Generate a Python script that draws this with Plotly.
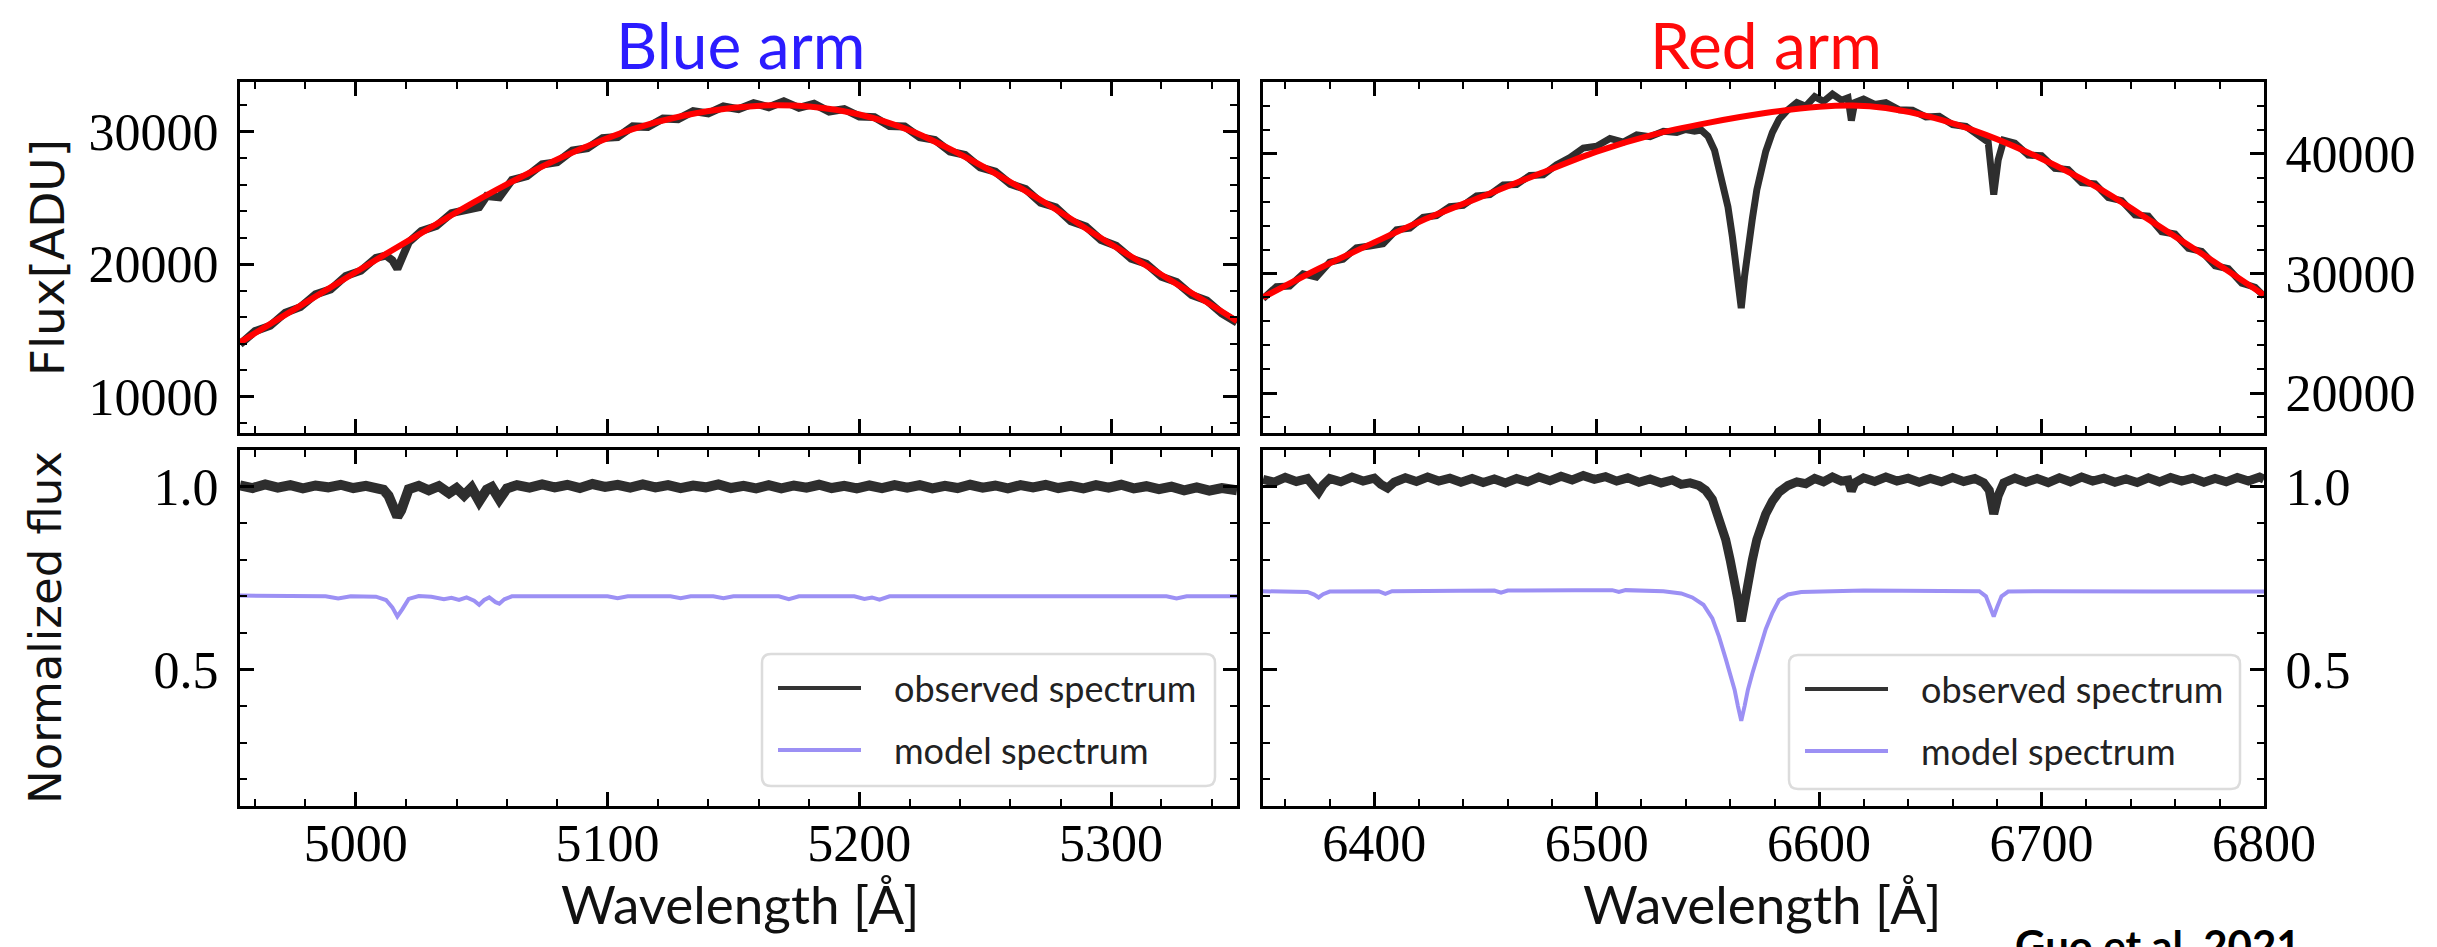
import plotly.graph_objects as go

W, H = 2437, 947

# ---------------- Blue arm ----------------
blue_fit_wl = [4954, 4970, 4990, 5010, 5030, 5050, 5070, 5090, 5110, 5130, 5150, 5165,
               5180, 5200, 5220, 5240, 5260, 5280, 5300, 5320, 5340, 5350]
blue_fit_flux = [14100, 15950, 18250, 20550, 22800, 25000, 27000, 28750, 30200, 31200, 31800, 32000,
                 31900, 31300, 30100, 28300, 26200, 23900, 21500, 19200, 16900, 15700]

blue_obs_wl = [4954, 4960, 4966, 4972, 4978, 4984, 4990, 4996, 5002, 5008, 5012, 5014.5, 5016.5,
               5018.5, 5021, 5026, 5032, 5038, 5044, 5049, 5052, 5057, 5062, 5068, 5074, 5080,
               5086, 5092, 5098, 5104, 5110, 5116, 5122, 5128, 5134, 5140, 5146, 5152, 5158, 5164,
               5170, 5176, 5182, 5188, 5194, 5200, 5206, 5212, 5218, 5224, 5230, 5236, 5242, 5248,
               5254, 5260, 5266, 5272, 5278, 5284, 5290, 5296, 5302, 5308, 5314, 5320, 5326, 5332,
               5338, 5344, 5350]
blue_obs_flux = [13950, 14950, 15350, 16330, 16760, 17720, 18100, 19110, 19500, 20480, 20650, 20300, 19650,
                 20400, 21650, 22500, 22880, 23850, 24150, 24300, 25150, 25050, 26350, 26650, 27530, 27700,
                 28580, 28750, 29520, 29600, 30400, 30350, 31000, 30950, 31550, 31380, 31900, 31700, 32150, 31850,
                 32300, 31800, 32100, 31520, 31700, 31150, 31100, 30420, 30400, 29580, 29380, 28500, 28250, 27300,
                 26980, 26050, 25680, 24650, 24300, 23250, 22850, 21820, 21400, 20420, 20030, 19050, 18650, 17680,
                 17260, 16280, 15600]

blue_norm_wl = [4954, 4959, 4964, 4969, 4974, 4979, 4984, 4989, 4994, 4999, 5004, 5008, 5011, 5013,
                5015, 5016.5, 5018, 5019.5, 5021, 5025, 5029, 5033, 5037, 5040, 5043, 5046, 5049, 5052,
                5054, 5057, 5060, 5064, 5069, 5074, 5079, 5084, 5089, 5094, 5099, 5104, 5109, 5114,
                5119, 5124, 5129, 5134, 5139, 5144, 5149, 5154, 5159, 5164, 5169, 5174, 5179, 5184,
                5189, 5194, 5199, 5204, 5209, 5214, 5219, 5224, 5229, 5234, 5239, 5244, 5249, 5254,
                5259, 5264, 5269, 5274, 5279, 5284, 5289, 5294, 5299, 5304, 5309, 5314, 5319, 5324,
                5329, 5334, 5339, 5344, 5350]
blue_norm_obs = [1.003, 0.996, 1.006, 0.997, 1.004, 0.995, 1.003, 0.998, 1.005, 0.996, 1.002, 0.995, 0.991, 0.975,
                 0.945, 0.918, 0.935, 0.972, 0.993, 1.002, 0.990, 1.001, 0.982, 0.996, 0.976, 0.997, 0.960, 0.992,
                 0.999, 0.965, 0.995, 1.004, 0.997, 1.006, 0.998, 1.005, 0.996, 1.007, 0.999, 1.005, 0.997, 1.006,
                 0.998, 1.004, 0.996, 1.003, 0.998, 1.006, 0.996, 1.002, 0.995, 1.004, 0.995, 1.003, 0.997, 1.005,
                 0.996, 1.002, 0.995, 1.003, 0.996, 1.004, 0.997, 1.004, 0.995, 1.002, 0.996, 1.005, 0.997, 1.003,
                 0.995, 1.004, 0.998, 1.005, 0.996, 1.002, 0.995, 1.004, 0.997, 1.005, 0.995, 1.001, 0.993, 1.000,
                 0.990, 0.998, 0.989, 0.996, 0.990]

blue_model_wl = [4954, 4975, 4988, 4993, 4998, 5008, 5012, 5014.5, 5016.5, 5018.5, 5021, 5025, 5030, 5035,
                 5038, 5041, 5044, 5047, 5049, 5051, 5053, 5055.5, 5057, 5059, 5062, 5080, 5100, 5104,
                 5108, 5125, 5129, 5133, 5142, 5146, 5150, 5168, 5172, 5176, 5198, 5202, 5205, 5208,
                 5212, 5240, 5270, 5300, 5322, 5326, 5330, 5350]
blue_model = [0.702, 0.702, 0.700, 0.694, 0.700, 0.699, 0.690, 0.670, 0.645, 0.665, 0.693, 0.701, 0.699, 0.692,
              0.696, 0.690, 0.697, 0.688, 0.677, 0.690, 0.697, 0.684, 0.680, 0.692, 0.700, 0.700, 0.700, 0.695,
              0.700, 0.700, 0.695, 0.700, 0.700, 0.695, 0.700, 0.700, 0.692, 0.700, 0.700, 0.693, 0.697, 0.691,
              0.700, 0.700, 0.700, 0.700, 0.700, 0.694, 0.700, 0.700]

# ---------------- Red arm ----------------
red_fit_wl = [6350, 6375, 6400, 6425, 6450, 6475, 6500, 6525, 6550, 6575, 6600, 6615,
              6630, 6650, 6675, 6700, 6725, 6750, 6775, 6800]
red_fit_flux = [28000, 30400, 32600, 34700, 36550, 38400, 40200, 41600, 42600, 43400, 43950, 44060,
                43850, 43100, 41600, 39600, 37200, 34300, 31300, 28200]

red_obs_wl = [6350, 6356, 6362, 6368, 6374, 6380, 6386, 6392, 6398, 6404, 6410, 6416, 6422, 6428,
              6434, 6440, 6446, 6452, 6458, 6464, 6470, 6476, 6482, 6488, 6494, 6500, 6506, 6512,
              6518, 6524, 6530, 6536, 6540, 6544, 6547, 6550, 6553, 6556, 6559, 6561, 6563, 6565,
              6566.5, 6568, 6570, 6572, 6574, 6576, 6579, 6582, 6586, 6590, 6594, 6598, 6602, 6606,
              6610, 6613, 6614.5, 6616, 6620, 6625, 6630, 6636, 6642, 6648, 6654, 6660, 6666, 6672,
              6676, 6678.5, 6680.5, 6683, 6688, 6694, 6700, 6706, 6712, 6718, 6724, 6730, 6736, 6742,
              6748, 6754, 6760, 6766, 6772, 6778, 6784, 6790, 6796, 6800]
red_obs_flux = [27900, 28900, 28950, 29980, 29700, 30950, 31200, 32150, 32300, 32500, 33650, 33800, 34700, 34850,
                35600, 35700, 36500, 36600, 37400, 37450, 38200, 38250, 39100, 39700, 40500, 40650, 41300, 41000,
                41600, 41450, 41900, 41800, 42050, 41900, 42000, 41500, 40300, 38100, 35600, 33100, 30100, 27100,
                29800, 32200, 34600, 37000, 38800, 40200, 41800, 42900, 43700, 44300, 44000, 44800, 44400, 45000,
                44500, 44700, 42800, 44300, 44600, 44150, 44300, 43700, 43650, 43100, 43150, 42450, 42300, 41600,
                41000, 36600, 39500, 41150, 40900, 39900, 39850, 38800, 38700, 37600, 37500, 36350, 36100, 34900,
                34800, 33500, 33300, 32100, 31850, 30650, 30400, 29200, 28850, 28100]

red_norm_wl = [6350, 6355, 6360, 6365, 6370, 6373, 6375, 6377, 6380, 6385, 6390, 6395, 6400, 6403,
               6406, 6409, 6414, 6419, 6424, 6429, 6434, 6439, 6444, 6449, 6454, 6459, 6464, 6469,
               6474, 6479, 6484, 6489, 6494, 6499, 6504, 6509, 6514, 6519, 6524, 6529, 6534, 6538,
               6542, 6546, 6549, 6552, 6555, 6558, 6560, 6562, 6563.5, 6565, 6566.5, 6568, 6570, 6572,
               6574, 6576, 6579, 6582, 6586, 6590, 6594, 6598, 6602, 6606, 6610, 6613, 6614.5, 6616,
               6620, 6625, 6630, 6635, 6640, 6645, 6650, 6655, 6660, 6665, 6670, 6674, 6676.5, 6678.5,
               6680.5, 6683, 6688, 6693, 6698, 6703, 6708, 6713, 6718, 6723, 6728, 6733, 6738, 6743,
               6748, 6753, 6758, 6763, 6768, 6773, 6778, 6783, 6788, 6793, 6798, 6800]
red_norm_obs = [1.020, 1.012, 1.025, 1.014, 1.022, 1.002, 0.985, 1.004, 1.022, 1.013, 1.026, 1.015, 1.023, 1.006,
                0.996, 1.012, 1.024, 1.014, 1.026, 1.015, 1.023, 1.012, 1.022, 1.011, 1.021, 1.010, 1.022, 1.013,
                1.026, 1.016, 1.028, 1.018, 1.030, 1.020, 1.027, 1.015, 1.024, 1.012, 1.021, 1.010, 1.018, 1.006,
                1.010, 1.003, 0.990, 0.965, 0.915, 0.855, 0.800, 0.745, 0.690, 0.632, 0.690, 0.745, 0.800, 0.855,
                0.895, 0.925, 0.960, 0.985, 1.003, 1.013, 1.008, 1.022, 1.013, 1.026, 1.015, 1.018, 0.988, 1.010,
                1.024, 1.014, 1.026, 1.015, 1.023, 1.012, 1.022, 1.013, 1.025, 1.014, 1.022, 1.010, 0.990, 0.925,
                0.975, 1.010, 1.023, 1.012, 1.022, 1.011, 1.024, 1.013, 1.026, 1.015, 1.023, 1.012, 1.021, 1.011,
                1.024, 1.013, 1.025, 1.015, 1.023, 1.012, 1.022, 1.013, 1.025, 1.015, 1.026, 1.020]

red_model_wl = [6350, 6370, 6373, 6375, 6377, 6380, 6402, 6405, 6408, 6440, 6454, 6457, 6460, 6490,
                6507, 6510, 6513, 6530, 6538, 6543, 6548, 6552, 6555, 6558, 6560, 6562, 6563.5, 6565,
                6566.5, 6568, 6570, 6572, 6574, 6576, 6579, 6582, 6586, 6592, 6620, 6660, 6672, 6675,
                6677, 6678.5, 6680, 6682, 6685, 6700, 6750, 6800]
red_model = [0.714, 0.712, 0.705, 0.697, 0.706, 0.713, 0.714, 0.707, 0.714, 0.716, 0.716, 0.710, 0.716, 0.717,
             0.717, 0.712, 0.717, 0.714, 0.708, 0.697, 0.677, 0.640, 0.590, 0.530, 0.490, 0.445, 0.400, 0.360,
             0.400, 0.445, 0.490, 0.530, 0.575, 0.610, 0.655, 0.690, 0.705, 0.712, 0.716, 0.716, 0.714, 0.700,
             0.670, 0.645, 0.670, 0.700, 0.713, 0.714, 0.713, 0.713]

legend_labels = ["observed spectrum", "model spectrum"]

# ---------------- Styling ----------------
OBS = "#2e2e2e"
FIT = "#ff0000"
MODEL = "#9c90f4"
TICKFONT = dict(family="Liberation Serif", size=52, color="black")
SANS = "Lato"


def px_x(x):
    return x / W


def px_y(y):
    return 1 - y / H


fig = go.Figure()

# top-left: raw flux, blue arm
fig.add_trace(go.Scatter(x=blue_obs_wl, y=blue_obs_flux, mode="lines",
                         line=dict(color=OBS, width=8), xaxis="x", yaxis="y", showlegend=False))
fig.add_trace(go.Scatter(x=blue_fit_wl, y=blue_fit_flux, mode="lines",
                         line=dict(color=FIT, width=6, shape="spline"), xaxis="x", yaxis="y", showlegend=False))
# top-right: raw flux, red arm
fig.add_trace(go.Scatter(x=red_obs_wl, y=red_obs_flux, mode="lines",
                         line=dict(color=OBS, width=7), xaxis="x2", yaxis="y2", showlegend=False))
fig.add_trace(go.Scatter(x=red_fit_wl, y=red_fit_flux, mode="lines",
                         line=dict(color=FIT, width=6, shape="spline"), xaxis="x2", yaxis="y2", showlegend=False))
# bottom-left: normalised, blue arm
fig.add_trace(go.Scatter(x=blue_norm_wl, y=blue_norm_obs, mode="lines", line=dict(color=OBS, width=10),
                         xaxis="x3", yaxis="y3", name=legend_labels[0], showlegend=False))
fig.add_trace(go.Scatter(x=blue_model_wl, y=blue_model, mode="lines", line=dict(color=MODEL, width=4),
                         xaxis="x3", yaxis="y3", name=legend_labels[1], showlegend=False))
# bottom-right: normalised, red arm
fig.add_trace(go.Scatter(x=red_norm_wl, y=red_norm_obs, mode="lines", line=dict(color=OBS, width=9),
                         xaxis="x4", yaxis="y4", name=legend_labels[0], showlegend=False))
fig.add_trace(go.Scatter(x=red_model_wl, y=red_model, mode="lines", line=dict(color=MODEL, width=4),
                         xaxis="x4", yaxis="y4", name=legend_labels[1], showlegend=False))

LEFT_DOM = [px_x(240), px_x(1237)]
RIGHT_DOM = [px_x(1263), px_x(2264)]
TOP_DOM = [px_y(433), px_y(82)]
BOT_DOM = [px_y(806), px_y(450)]


def frame(**kw):
    base = dict(showline=True, linecolor="black", linewidth=3, mirror="allticks",
                ticks="inside", ticklen=14, tickwidth=2.5, tickcolor="black",
                showgrid=False, zeroline=False, tickfont=TICKFONT, automargin=False,
                minor=dict(ticks="inside", ticklen=7, tickwidth=2, tickcolor="black", showgrid=False))
    base.update(kw)
    return base


fig.update_layout(
    width=W, height=H, margin=dict(l=0, r=0, t=0, b=0, autoexpand=False),
    paper_bgcolor="white", plot_bgcolor="white", showlegend=False,
    xaxis=frame(domain=LEFT_DOM, range=[4954, 5350], dtick=100, tick0=0, showticklabels=False,
                minor_dtick=20, anchor="y"),
    yaxis=frame(domain=TOP_DOM, range=[7260, 33750], dtick=10000, tick0=0, tickformat="d",
                minor_dtick=2000, anchor="x", ticklabelstandoff=8),
    xaxis2=frame(domain=RIGHT_DOM, range=[6350, 6800], dtick=100, tick0=0, showticklabels=False,
                 minor_dtick=20, anchor="y2"),
    yaxis2=frame(domain=TOP_DOM, range=[16660, 46020], dtick=10000, tick0=0, tickformat="d",
                 minor_dtick=2000, anchor="x2", side="right", ticklabelstandoff=8),
    xaxis3=frame(domain=LEFT_DOM, range=[4954, 5350], dtick=100, tick0=0, minor_dtick=20,
                 anchor="y3", ticklabelstandoff=-10),
    yaxis3=frame(domain=BOT_DOM, range=[0.127, 1.1], dtick=0.5, tick0=0, tickformat=".1f",
                 minor_dtick=0.1, anchor="x3", ticklabelstandoff=8),
    xaxis4=frame(domain=RIGHT_DOM, range=[6350, 6800], dtick=100, tick0=0, minor_dtick=20,
                 anchor="y4", ticklabelstandoff=-10),
    yaxis4=frame(domain=BOT_DOM, range=[0.127, 1.1], dtick=0.5, tick0=0, tickformat=".1f",
                 minor_dtick=0.1, anchor="x4", side="right", ticklabelstandoff=8),
)

annotations = [
    dict(text="Blue arm", x=px_x(740), y=px_y(44), font=dict(family=SANS, size=64, color="#2b1cff")),
    dict(text="Red arm", x=px_x(1766), y=px_y(44), font=dict(family=SANS, size=64, color="#ff0a0a")),
    dict(text="Flux[ADU]", x=px_x(47), y=px_y(258), textangle=-90,
         font=dict(family="DejaVu Sans", size=47, color="#111111")),
    dict(text="Normalized flux", x=px_x(45), y=px_y(628), textangle=-90,
         font=dict(family="DejaVu Sans", size=45, color="#111111")),
    dict(text="Wavelength [Å]", x=px_x(740), y=px_y(903), font=dict(family=SANS, size=53, color="#111111")),
    dict(text="Wavelength [Å]", x=px_x(1762), y=px_y(903), font=dict(family=SANS, size=53, color="#111111")),
    dict(text="<b>Guo et al. 2021</b>", x=px_x(2013), y=px_y(918), xanchor="left", yanchor="top",
         font=dict(family=SANS, size=42, color="black")),
]

# Legend boxes for the two normalised panels (rounded frame, sample lines, labels)
shapes = []
legend_boxes = [(762, 654, 1215, 786), (1789, 655, 2240, 789)]
for (x0, y0, x1, y1) in legend_boxes:
    rx, ry = 9 / W, 9 / H
    a, b, c, d = px_x(x0), px_y(y0), px_x(x1), px_y(y1)
    path = (f"M{a + rx},{b} L{c - rx},{b} Q{c},{b} {c},{b - ry} L{c},{d + ry} Q{c},{d} {c - rx},{d} "
            f"L{a + rx},{d} Q{a},{d} {a},{d + ry} L{a},{b - ry} Q{a},{b} {a + rx},{b} Z")
    shapes.append(dict(type="path", path=path, xref="paper", yref="paper",
                       fillcolor="rgba(255,255,255,0.85)", line=dict(color="#dcdcdc", width=2.5)))
    row_y = [y0 + 34, y0 + 96]
    for label, color, yy in zip(legend_labels, ["#333333", MODEL], row_y):
        shapes.append(dict(type="line", xref="paper", yref="paper",
                           x0=px_x(x0 + 16), x1=px_x(x0 + 99), y0=px_y(yy), y1=px_y(yy),
                           line=dict(color=color, width=4)))
        annotations.append(dict(text=label, x=px_x(x0 + 130), y=px_y(yy), xanchor="left",
                                font=dict(family=SANS, size=36, color="#222222")))

for a in annotations:
    a.setdefault("xref", "paper")
    a.setdefault("yref", "paper")
    a.setdefault("showarrow", False)
    a.setdefault("xanchor", "center")
    a.setdefault("yanchor", "middle")
fig.update_layout(annotations=annotations, shapes=shapes)

fig.write_html("out.html")
